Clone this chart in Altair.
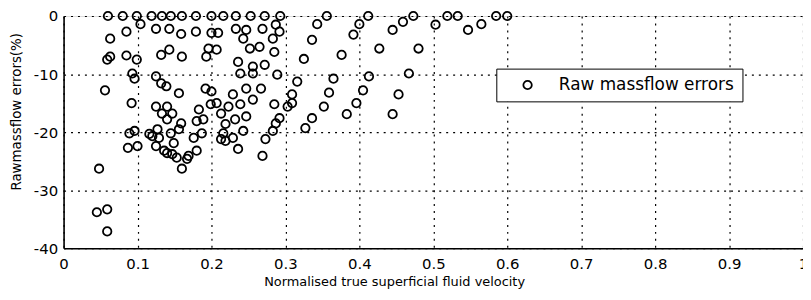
import altair as alt
import pandas as pd

# Normalised true superficial fluid velocity (x) and raw massflow error in % (y)
x_vals = [
    # points on the 0 % line
    0.060, 0.080, 0.099, 0.119, 0.133, 0.145, 0.160, 0.179, 0.200, 0.216, 0.233,
    0.253, 0.272, 0.293, 0.356, 0.412, 0.473, 0.519, 0.533, 0.585, 0.600,
    # low-velocity group
    0.104, 0.125, 0.085, 0.063, 0.132, 0.059, 0.063, 0.085, 0.099, 0.093, 0.096,
    0.125, 0.132, 0.056, 0.092, 0.125, 0.133, 0.089, 0.096, 0.087, 0.100, 0.116,
    0.127, 0.129, 0.125, 0.136, 0.048, 0.045, 0.059, 0.059,
    # dense middle group
    0.143, 0.159, 0.179, 0.200, 0.209, 0.233, 0.247, 0.243, 0.269, 0.287, 0.292,
    0.283, 0.143, 0.160, 0.196, 0.207, 0.193, 0.252, 0.265, 0.285, 0.236, 0.256,
    0.272, 0.239, 0.256, 0.289, 0.139, 0.156, 0.192, 0.200, 0.229, 0.247, 0.267,
    0.256, 0.239, 0.309, 0.303, 0.285, 0.287, 0.140, 0.147, 0.183, 0.199, 0.213,
    0.223, 0.232, 0.247, 0.207, 0.140, 0.159, 0.180, 0.189, 0.219, 0.283, 0.273,
    0.145, 0.156, 0.187, 0.216, 0.213, 0.219, 0.229, 0.243, 0.236, 0.269, 0.149,
    0.176, 0.180, 0.140, 0.153, 0.167, 0.160, 0.120, 0.169, 0.147,
    # diagonal streaks at higher velocity
    0.316, 0.325, 0.336, 0.343, 0.309, 0.292, 0.327, 0.336, 0.352, 0.359, 0.365,
    0.376, 0.392, 0.400, 0.383, 0.396, 0.405, 0.413, 0.427, 0.445, 0.459, 0.445,
    0.453, 0.467, 0.480, 0.503, 0.547, 0.565,
]
y_vals = [
    0, 0, 0, 0, 0, 0, 0, 0, 0, 0, 0,
    0, 0, 0, 0, 0, 0, 0, 0, 0, 0,
    -1.4, -2.2, -2.7, -3.9, -6.7, -7.5, -7.0, -6.8, -7.5, -9.9, -10.8,
    -10.4, -11.6, -12.8, -15.0, -15.6, -16.8, -20.2, -19.8, -22.7, -22.4, -20.3,
    -19.5, -21.0, -22.4, -23.2, -26.3, -33.8, -33.3, -37.1,
    -2.2, -3.1, -2.7, -2.9, -2.9, -2.2, -2.4, -3.9, -2.2, -1.5, -2.7,
    -3.9, -5.8, -7.0, -5.6, -5.8, -7.0, -5.6, -5.3, -6.2, -7.9, -8.7,
    -8.4, -9.9, -9.9, -10.1, -12.1, -13.3, -12.5, -13.0, -13.5, -12.5, -12.5,
    -14.4, -15.2, -13.5, -15.6, -15.2, -18.5, -15.6, -16.8, -16.1, -15.2, -16.8,
    -15.6, -17.8, -17.3, -15.0, -17.8, -18.5, -18.1, -17.8, -18.6, -19.8, -21.2,
    -20.2, -19.5, -20.2, -20.2, -21.2, -21.5, -21.0, -19.8, -22.9, -24.1, -21.9,
    -21.0, -23.2, -23.6, -24.4, -24.6, -26.3, -20.7, -24.1, -23.8,
    -11.3, -7.4, -4.1, -1.4, -15.0, -17.6, -19.3, -17.6, -15.6, -13.2, -10.8,
    -6.7, -3.2, -1.4, -16.9, -15.0, -12.8, -10.4, -5.6, -2.4, -1.0, -16.9,
    -13.5, -9.9, -5.6, -1.5, -2.4, -1.4,
]
series_name = "Raw massflow errors"
x_ticks = [0, 0.1, 0.2, 0.3, 0.4, 0.5, 0.6, 0.7, 0.8, 0.9, 1]
y_ticks = [0, -10, -20, -30, -40]

df = pd.DataFrame({"v": x_vals, "err": y_vals, "series": [series_name] * len(x_vals)})

FONT = "DejaVu Sans"

chart = (
    alt.Chart(df)
    .mark_point(shape="circle", filled=False, size=72, strokeWidth=1.8, opacity=1)
    .encode(
        x=alt.X(
            "v:Q",
            scale=alt.Scale(domain=[0, 1], nice=False, zero=False),
            axis=alt.Axis(
                values=x_ticks,
                format="~g",
                title="Normalised true superficial fluid velocity",
                titleFont=FONT,
                titleFontSize=13,
                titleFontWeight="normal",
                titleX=333,
                titleY=34,
                titleAlign="center",
                titleBaseline="middle",
                labelFont=FONT,
                labelFontSize=15,
                labelPadding=8,
                labelColor="black",
                labelFlush=False,
                ticks=False,
                grid=True,
                gridColor="black",
                gridDash=[2, 5],
                gridWidth=1.2,
                gridOpacity=1,
                domainColor="black",
                domainWidth=1.6,
            ),
        ),
        y=alt.Y(
            "err:Q",
            scale=alt.Scale(domain=[-40, 0], nice=False, zero=False),
            axis=alt.Axis(
                values=y_ticks,
                labelExpr="'' + datum.value",
                title="Rawmassflow errors(%)",
                titleFont=FONT,
                titleFontSize=13.5,
                titleFontWeight="normal",
                titleX=-47,
                titleY=96,
                titleAlign="center",
                titleBaseline="middle",
                labelFont=FONT,
                labelFontSize=15,
                labelPadding=6,
                labelColor="black",
                labelFlush=False,
                ticks=False,
                grid=True,
                gridColor="black",
                gridDash=[2, 5],
                gridWidth=1.2,
                gridOpacity=1,
                domainColor="black",
                domainWidth=1.6,
            ),
        ),
        stroke=alt.Stroke(
            "series:N",
            scale=alt.Scale(range=["black"]),
            legend=alt.Legend(
                title=None,
                orient="none",
                legendX=436,
                legendY=53,
                strokeColor="black",
                fillColor="white",
                padding=8,
                symbolType="circle",
                symbolSize=72,
                symbolStrokeWidth=1.8,
                symbolStrokeColor="black",
                symbolOffset=15,
                labelOffset=23,
                labelFont=FONT,
                labelFontSize=17,
                labelColor="black",
                labelLimit=400,
            ),
        ),
    )
    .properties(
        width=745,
        height=234,
        autosize=alt.AutoSizeParams(type="none"),
        padding={"left": 56, "top": 7, "right": 0, "bottom": 43},
    )
    .configure_view(stroke="black", strokeWidth=2)
    .configure(background="white")
)

chart.save("out.html", embed_options={"renderer": "svg", "actions": False})
